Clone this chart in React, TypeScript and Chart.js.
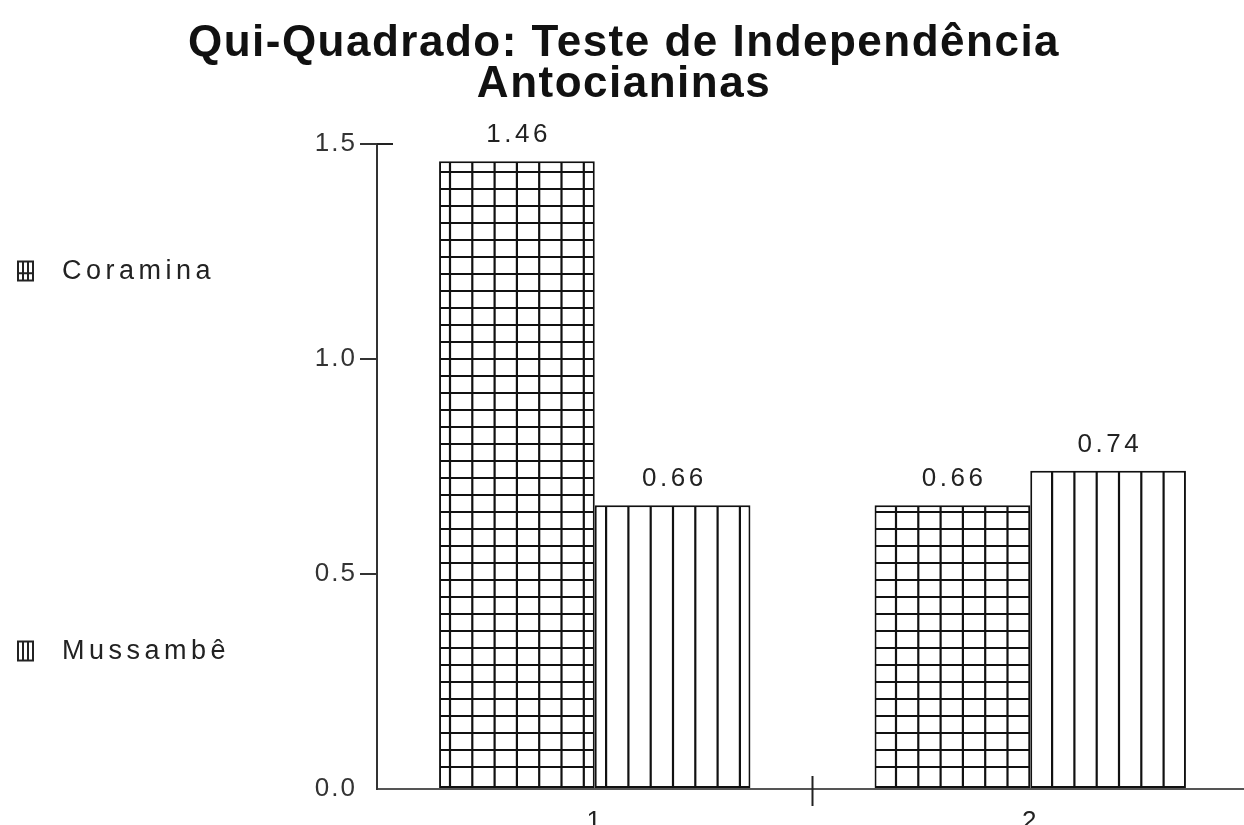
import React, { useEffect, useRef } from 'react';
import { Chart, registerables } from 'chart.js';

Chart.register(...registerables);

// ---- data ----
const categories = ['1', '2'];
const seriesNames = ['Coramina', 'Mussambê'];
const coraminaValues = [1.46, 0.66];
const mussambeValues = [0.66, 0.74];
const yTickValues = [0, 0.5, 1.0, 1.5];
const titleLines = ['Qui-Quadrado: Teste de Independência', 'Antocianinas'];

// ---- layout / style constants ----
const W = 1252;
const H = 825;
const FONT = '"Liberation Sans", Arial, Helvetica, sans-serif';
const TEXT = '#222';
const LEGEND_Y = [271, 651];

const hatchAndLabels = {
  id: 'hatchAndLabels',
  beforeDraw(chart: any) {
    // spacing used by the title (drawn before datasets)
    chart.ctx.letterSpacing = '1.5px';
  },
  beforeDatasetsDraw(chart: any) {
    chart.ctx.letterSpacing = '0px';
  },
  afterDatasetsDraw(chart: any) {
    const { ctx, chartArea } = chart;
    chart.data.datasets.forEach((ds: any, di: number) => {
      const meta = chart.getDatasetMeta(di);
      meta.data.forEach((bar: any, i: number) => {
        const { x, y, base, width } = bar.getProps(['x', 'y', 'base', 'width'], true);
        const l = x - width / 2;
        const r = x + width / 2;
        const t = Math.min(y, base);
        const b = Math.max(y, base);
        ctx.save();
        ctx.beginPath();
        ctx.rect(l + 1, t + 1, r - l - 2, b - t - 2);
        ctx.clip();
        ctx.strokeStyle = '#111';
        ctx.lineWidth = 2.2;
        ctx.beginPath();
        const period = 22.3;
        const phase = 6.1;
        for (let k = 0; k < 200; k++) {
          const lx = chartArea.left + phase + k * period;
          if (lx > r) break;
          if (lx < l) continue;
          ctx.moveTo(lx, t);
          ctx.lineTo(lx, b);
        }
        if (ds.hatch === 'grid') {
          for (let yy = b - 21; yy > t; yy -= 17) {
            ctx.moveTo(l, yy);
            ctx.lineTo(r, yy);
          }
        }
        ctx.stroke();
        ctx.restore();

        // value label
        const v = ds.data[i];
        ctx.save();
        ctx.font = `26px ${FONT}`;
        ctx.letterSpacing = '3.5px';
        ctx.fillStyle = TEXT;
        ctx.textAlign = 'center';
        ctx.textBaseline = 'middle';
        ctx.fillText(Number(v).toFixed(2), x + 1.75, t - 26);
        ctx.restore();
      });
    });

    // separator tick between categories & top cap of y axis
    const xs = chart.scales.x;
    const ys = chart.scales.y;
    ctx.save();
    ctx.strokeStyle = '#222';
    ctx.lineWidth = 2;
    ctx.beginPath();
    for (let c = 0; c < categories.length - 1; c++) {
      const sx = xs.getPixelForValue(c + 0.5);
      ctx.moveTo(sx, chartArea.bottom - 13);
      ctx.lineTo(sx, chartArea.bottom + 17);
    }
    const topY = ys.getPixelForValue(yTickValues[yTickValues.length - 1]);
    ctx.moveTo(chartArea.left, topY);
    ctx.lineTo(chartArea.left + 16, topY);
    ctx.stroke();
    ctx.restore();

    // letter spacing for tick labels drawn next (z = 1)
    ctx.letterSpacing = '2px';
  },
  afterDraw(chart: any) {
    const { ctx } = chart;
    ctx.letterSpacing = '0px';
    // legend
    chart.data.datasets.forEach((ds: any, di: number) => {
      const cy = LEGEND_Y[di];
      const ix = 18;
      const iw = 15;
      const ih = 19;
      const iy = cy - ih / 2;
      ctx.save();
      ctx.strokeStyle = '#222';
      ctx.lineWidth = 2;
      ctx.strokeRect(ix, iy, iw, ih);
      ctx.beginPath();
      ctx.moveTo(ix + iw / 3, iy);
      ctx.lineTo(ix + iw / 3, iy + ih);
      ctx.moveTo(ix + (2 * iw) / 3, iy);
      ctx.lineTo(ix + (2 * iw) / 3, iy + ih);
      if (ds.hatch === 'grid') {
        ctx.moveTo(ix, iy + ih * 0.62);
        ctx.lineTo(ix + iw, iy + ih * 0.62);
      }
      ctx.stroke();
      ctx.font = `27px ${FONT}`;
      ctx.letterSpacing = '4.5px';
      ctx.fillStyle = TEXT;
      ctx.textAlign = 'left';
      ctx.textBaseline = 'middle';
      ctx.fillText(ds.label, 62, cy + 1);
      ctx.restore();
    });
    ctx.letterSpacing = '0px';
  },
};

export default function App() {
  const ref = useRef<HTMLCanvasElement>(null);

  useEffect(() => {
    const canvas = ref.current;
    if (!canvas) return;
    const chart = new Chart(canvas, {
      type: 'bar',
      data: {
        labels: categories,
        datasets: [
          {
            label: seriesNames[0],
            data: coraminaValues,
            backgroundColor: '#ffffff',
            borderColor: '#111',
            borderWidth: 2,
            borderSkipped: false,
            categoryPercentage: 0.715,
            barPercentage: 1.0,
            hatch: 'grid',
          } as any,
          {
            label: seriesNames[1],
            data: mussambeValues,
            backgroundColor: '#ffffff',
            borderColor: '#111',
            borderWidth: 2,
            borderSkipped: false,
            categoryPercentage: 0.715,
            barPercentage: 1.0,
            hatch: 'vertical',
          } as any,
        ],
      },
      options: {
        responsive: false,
        maintainAspectRatio: false,
        animation: false,
        layout: { padding: { left: 0, right: 4, top: 0, bottom: 0 } },
        plugins: {
          legend: { display: false },
          tooltip: { enabled: false },
          title: {
            display: true,
            text: titleLines,
            color: '#111',
            font: { family: FONT, size: 44, weight: 'bold', lineHeight: 0.932 },
            padding: { top: 23, bottom: 39 },
          },
        },
        scales: {
          x: {
            type: 'category',
            grid: { display: false, drawTicks: false, tickLength: 0 },
            border: { display: true, color: '#555', width: 2 },
            ticks: {
              color: TEXT,
              font: { family: FONT, size: 26 },
              padding: 17,
              z: 1,
            },
            afterFit: (s: any) => {
              s.height = 36;
            },
          },
          y: {
            type: 'linear',
            min: yTickValues[0],
            max: yTickValues[yTickValues.length - 1],
            afterBuildTicks: (s: any) => {
              s.ticks = yTickValues.map((v) => ({ value: v }));
            },
            grid: {
              drawOnChartArea: false,
              drawTicks: true,
              tickLength: 17,
              lineWidth: 2,
              tickColor: (c: any) => (c.tick && c.tick.value === 0 ? 'rgba(0,0,0,0)' : '#333'),
            },
            border: { display: true, color: '#333', width: 2 },
            ticks: {
              color: '#333',
              font: { family: FONT, size: 26 },
              padding: 3,
              z: 1,
              callback: (v: any) => Number(v).toFixed(1),
            },
            afterFit: (s: any) => {
              s.width = 377;
            },
          },
        },
      },
      plugins: [hatchAndLabels],
    });
    return () => chart.destroy();
  }, []);

  return (
    <div
      style={{
        position: 'fixed',
        left: 0,
        top: 0,
        width: 1244,
        height: 825,
        overflow: 'hidden',
        background: '#fff',
      }}
    >
      <canvas ref={ref} width={W} height={H} style={{ display: 'block', width: W, height: H }} />
    </div>
  );
}
